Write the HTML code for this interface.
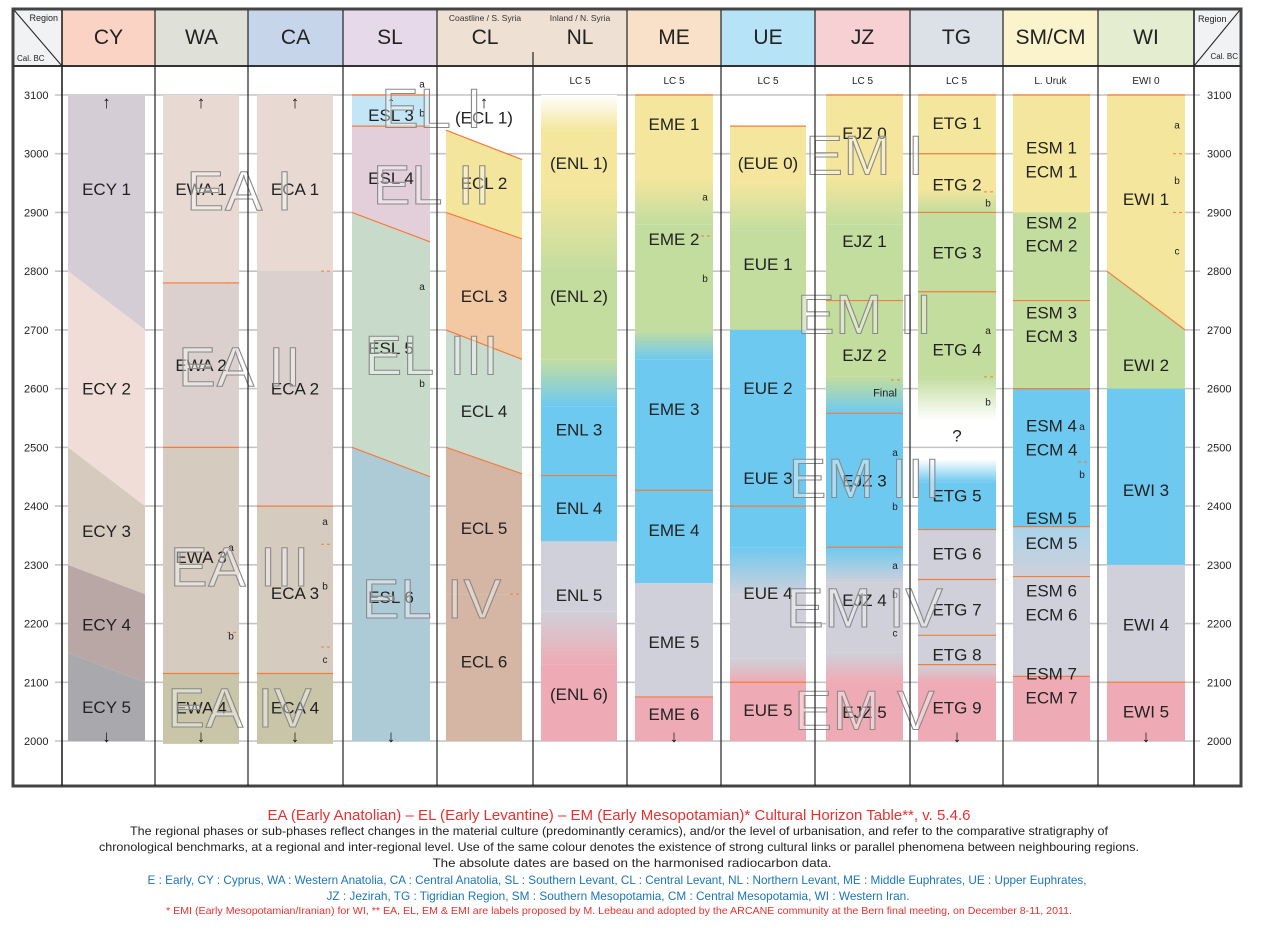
<!DOCTYPE html>
<html><head><meta charset="utf-8"><style>
html,body{margin:0;padding:0;background:#fff;}
svg{display:block;font-family:"Liberation Sans",sans-serif;}
</style></head><body>
<svg id="chart" width="1262" height="931" viewBox="0 0 1262 931" xmlns="http://www.w3.org/2000/svg">
<defs id="defs"></defs>
<g id="header"></g>
<g id="grid"></g>
<g id="bars"></g>
<g id="labels"></g>
<g id="horizons"></g>
<g id="frame"></g>
<g id="footer">
<text x="619" y="820" font-size="15" fill="#e8312f" text-anchor="middle" textLength="703" lengthAdjust="spacingAndGlyphs">EA (Early Anatolian) – EL (Early Levantine) – EM (Early Mesopotamian)* Cultural Horizon Table**, v. 5.4.6</text>
<text x="619" y="835" font-size="12" fill="#222" text-anchor="middle" textLength="978" lengthAdjust="spacingAndGlyphs">The regional phases or sub-phases reflect changes in the material culture (predominantly ceramics), and/or the level of urbanisation, and refer to the comparative stratigraphy of</text>
<text x="619" y="851" font-size="12" fill="#222" text-anchor="middle" textLength="1040" lengthAdjust="spacingAndGlyphs">chronological benchmarks, at a regional and inter-regional level. Use of the same colour denotes the existence of strong cultural links or parallel phenomena between neighbouring regions.</text>
<text x="632" y="867" font-size="12" fill="#222" text-anchor="middle" textLength="399" lengthAdjust="spacingAndGlyphs">The absolute dates are based on the harmonised radiocarbon data.</text>
<text x="617" y="884" font-size="12" fill="#1b75bb" text-anchor="middle" textLength="939" lengthAdjust="spacingAndGlyphs">E : Early, CY : Cyprus,  WA : Western Anatolia, CA : Central Anatolia, SL : Southern Levant, CL : Central Levant, NL : Northern Levant, ME : Middle Euphrates, UE : Upper Euphrates,</text>
<text x="618" y="900" font-size="12" fill="#1b75bb" text-anchor="middle" textLength="583" lengthAdjust="spacingAndGlyphs">JZ : Jezirah, TG : Tigridian Region, SM : Southern Mesopotamia, CM : Central Mesopotamia, WI : Western Iran.</text>
<text x="619" y="914" font-size="10.5" fill="#e8312f" text-anchor="middle" textLength="906" lengthAdjust="spacingAndGlyphs">* EMI (Early Mesopotamian/Iranian) for WI, ** EA, EL, EM &amp; EMI are labels proposed by M. Lebeau and adopted by the ARCANE community at the Bern final meeting, on December 8-11, 2011.</text>
</g>
</svg>
<script>
// ---- data ----
const regions = ["CY","WA","CA","SL","CL","NL","ME","UE","JZ","TG","SM/CM","WI"];
const yearTicks = [3100,3000,2900,2800,2700,2600,2500,2400,2300,2200,2100,2000];
const subHeads = ["","","","","","LC 5","LC 5","LC 5","LC 5","LC 5","L. Uruk","EWI 0"];
// segments: [col, topLeftYr, topRightYr, botLeftYr, botRightYr, colorTop, colorBot, orangeTopLine]
const Y="#f4e69c",G="#c3dd9f",B="#6ec9f0",R="#cfd0d9",P="#efabb5",W="#ffffff";
const segments = [
 [0,3100,3100,2800,2700,"#d5cdd6","#d5cdd6",0],
 [0,2800,2700,2500,2400,"#f1ddd7","#f1ddd7",0],
 [0,2500,2400,2300,2250,"#d6cabe","#d6cabe",0],
 [0,2300,2250,2150,2100,"#b9a7a5","#b9a7a5",0],
 [0,2150,2100,2000,2000,"#a9a9ad","#a9a9ad",0],
 [1,3100,3100,2780,2780,"#e8dad3","#e8dad3",0],
 [1,2780,2780,2500,2500,"#dbd0cd","#dbd0cd",1],
 [1,2500,2500,2115,2115,"#d6cbbf","#d6cbbf",1],
 [1,2115,2115,1995,1995,"#c9c5a9","#c9c5a9",1],
 [2,3100,3100,2800,2800,"#e8dad3","#e8dad3",0],
 [2,2800,2800,2400,2400,"#dbd0cd","#dbd0cd",0],
 [2,2400,2400,2115,2115,"#d6cbbf","#d6cbbf",1],
 [2,2115,2115,1995,1995,"#c9c5a9","#c9c5a9",1],
 [3,3100,3100,3047,3047,"#c2e6f5","#c2e6f5",1],
 [3,3047,3047,2900,2850,"#e3cfd9","#e3cfd9",1],
 [3,2900,2850,2500,2450,"#c8dbca","#c8dbca",1],
 [3,2500,2450,2000,2000,"#adcad7","#adcad7",1],
 [4,3040,2990,2900,2855,"#f4e59c","#f4e59c",1],
 [4,2900,2855,2700,2650,"#f2c9a2","#f2c9a2",1],
 [4,2700,2650,2500,2455,"#c9dccd","#c9dccd",1],
 [4,2500,2455,2250,2250,"#d5b6a4","#d5b6a4",1],
 [4,2250,2250,2000,2000,"#d5b6a4","#d5b6a4",0],
 [5,3100,3100,3040,3040,W,Y,0],[5,3040,3040,2940,2940,Y,Y,0],[5,2940,2940,2800,2800,Y,G,0],
 [5,2800,2800,2650,2650,G,G,0],[5,2650,2650,2570,2570,G,B,0],[5,2570,2570,2452,2452,B,B,0],
 [5,2452,2452,2340,2340,B,B,1],[5,2340,2340,2220,2220,R,R,0],[5,2220,2220,2130,2130,R,P,0],[5,2130,2130,2000,2000,P,P,0],
 [6,3100,3100,2960,2960,Y,Y,1],[6,2960,2960,2880,2880,Y,G,0],[6,2880,2880,2700,2700,G,G,0],
 [6,2700,2700,2650,2650,G,B,0],[6,2650,2650,2427,2427,B,B,0],[6,2427,2427,2269,2269,B,B,1],
 [6,2269,2269,2075,2075,R,R,0],[6,2075,2075,2000,2000,P,P,1],
 [7,3047,3047,2950,2950,Y,Y,1],[7,2950,2950,2870,2870,Y,G,0],[7,2870,2870,2700,2700,G,G,0],
 [7,2700,2700,2400,2400,B,B,0],[7,2400,2400,2330,2330,B,B,1],[7,2330,2330,2250,2250,B,R,0],
 [7,2250,2250,2140,2140,R,R,0],[7,2140,2140,2100,2100,R,P,0],[7,2100,2100,2000,2000,P,P,1],
 [8,3100,3100,2960,2960,Y,Y,1],[8,2960,2960,2880,2880,Y,G,0],[8,2880,2880,2750,2750,G,G,0],
 [8,2750,2750,2620,2620,G,G,1],[8,2620,2620,2558,2558,G,B,0],[8,2558,2558,2330,2330,B,B,1],
 [8,2330,2330,2270,2270,B,R,1],[8,2270,2270,2150,2150,R,R,0],[8,2150,2150,2100,2100,R,P,0],[8,2100,2100,2000,2000,P,P,0],
 [9,3100,3100,3000,3000,Y,Y,1],[9,3000,3000,2940,2940,Y,Y,1],[9,2940,2940,2900,2900,Y,G,0],
 [9,2900,2900,2765,2765,G,G,1],[9,2765,2765,2620,2620,G,G,1],[9,2620,2620,2545,2545,G,W,0],
 [9,2480,2480,2440,2440,W,B,0],[9,2440,2440,2360,2360,B,B,0],[9,2360,2360,2275,2275,R,R,1],
 [9,2275,2275,2180,2180,R,R,1],[9,2180,2180,2130,2130,R,R,1],[9,2130,2130,2100,2100,R,P,1],[9,2100,2100,2000,2000,P,P,0],
 [10,3100,3100,2900,2900,Y,Y,1],[10,2900,2900,2750,2750,G,G,0],[10,2750,2750,2600,2600,G,G,1],
 [10,2600,2600,2365,2365,B,B,1],[10,2365,2365,2280,2280,"#a9d4ec",R,1],[10,2280,2280,2110,2110,R,R,1],[10,2110,2110,2000,2000,P,P,1],
 [11,3100,3100,2800,2700,Y,Y,1],[11,2800,2700,2600,2600,G,G,1],[11,2600,2600,2300,2300,B,B,0],
 [11,2300,2300,2100,2100,R,R,0],[11,2100,2100,2000,2000,P,P,1]
];
// labels: [col, text, year]
const phaseLabels = [
 [0,"ECY 1",2940],[0,"ECY 2",2600],[0,"ECY 3",2358],[0,"ECY 4",2198],[0,"ECY 5",2058],
 [1,"EWA 1",2940],[1,"EWA 2",2640],[1,"EWA 3",2313],[1,"EWA 4",2057],
 [2,"ECA 1",2940],[2,"ECA 2",2600],[2,"ECA 3",2252],[2,"ECA 4",2057],
 [3,"ESL 3",3066],[3,"ESL 4",2959],[3,"ESL 5",2669],[3,"ESL 6",2245],
 [4,"(ECL 1)",3062],[4,"ECL 2",2950],[4,"ECL 3",2758],[4,"ECL 4",2562],[4,"ECL 5",2363],[4,"ECL 6",2135],
 [5,"(ENL 1)",2984],[5,"(ENL 2)",2758],[5,"ENL 3",2530],[5,"ENL 4",2397],[5,"ENL 5",2249],[5,"(ENL 6)",2080],
 [6,"EME 1",3051],[6,"EME 2",2855],[6,"EME 3",2565],[6,"EME 4",2359],[6,"EME 5",2169],[6,"EME 6",2046],
 [7,"(EUE 0)",2984],[7,"EUE 1",2812],[7,"EUE 2",2601],[7,"EUE 3",2448],[7,"EUE 4",2252],[7,"EUE 5",2053],
 [8,"EJZ 0",3035],[8,"EJZ 1",2851],[8,"EJZ 2",2657],[8,"EJZ 3",2444],[8,"EJZ 4",2240],[8,"EJZ 5",2049],
 [9,"ETG 1",3052],[9,"ETG 2",2948],[9,"ETG 3",2832],[9,"ETG 4",2667],[9,"?",2520],[9,"ETG 5",2418],[9,"ETG 6",2319],[9,"ETG 7",2224],[9,"ETG 8",2147],[9,"ETG 9",2057],
 [10,"ESM 1",3011],[10,"ECM 1",2970],[10,"ESM 2",2883],[10,"ECM 2",2844],[10,"ESM 3",2730],[10,"ECM 3",2690],[10,"ESM 4",2537],[10,"ECM 4",2496],[10,"ESM 5",2380],[10,"ECM 5",2337],[10,"ESM 6",2256],[10,"ECM 6",2215],[10,"ESM 7",2115],[10,"ECM 7",2074],
 [11,"EWI 1",2923],[11,"EWI 2",2640],[11,"EWI 3",2427],[11,"EWI 4",2198],[11,"EWI 5",2050]
];
// small sub-phase letters: [col, text, year]
const subLetters = [
 [1,"a",2330],[1,"b",2180],[2,"a",2375],[2,"b",2265],[2,"c",2140],[3,"a",3120],[3,"b",3070],[3,"a",2775],[3,"b",2610],
 [6,"a",2927],[6,"b",2788],[8,"a",2492],[8,"b",2400],[8,"a",2300],[8,"b",2250],[8,"c",2185],[9,"b",2917],[9,"a",2700],[9,"b",2578],
 [10,"a",2536],[10,"b",2455],[11,"a",3050],[11,"b",2955],[11,"c",2835]
];
const upArrows = [0,1,2,3,4];
const downArrows = [0,1,2,3,6,9,11];
const horizonNames = ["EA I","EA II","EA III","EA IV","EL I","EL II","EL III","EL IV","EM I","EM II","EM III","EM IV","EM V"];
const horizonYears = [2940,2640,2300,2060,3080,2950,2660,2245,3000,2730,2450,2230,2055];
const horizonGroup = [0,0,0,0,1,1,1,1,2,2,2,2,2];

// ---- layout ----
const colX = [62,155,248,343,437,533,627,721,815,910,1003,1098,1194];
const barInset = [[6,10],[8,9],[9,10],[9,7],[9,11],[8,10],[8,8],[9,9],[11,7],[8,7],[10,8],[9,9]];
const horizonX = [240,432,865];
const headFill = ["#fbd3c4","#dfe1d8","#c6d5ea","#e6d9ea","#efe0d4","#efe0d4","#f9e0c8","#b7e3f7","#f6d0d2","#dce1e8","#faf3cc","#e4edcf"];
const NS="http://www.w3.org/2000/svg";
const yOf = yr => 95 + (3100-yr)*646/1100;
function mk(tag, attrs, parent, txt){const e=document.createElementNS(NS,tag);for(const k in attrs)e.setAttribute(k,attrs[k]);if(txt!==undefined)e.textContent=txt;parent.appendChild(e);return e;}
const $=id=>document.getElementById(id);
const barL = c => colX[c]+barInset[c][0], barR = c => colX[c+1]-barInset[c][1];

// header
const hd=$("header");
let r=mk("rect",{x:14,y:10,width:48,height:56,fill:"#f1f2f4"},hd);


mk("rect",{x:1194,y:10,width:46,height:56,fill:"#f1f2f4"},hd);
mk("line",{x1:14,y1:10,x2:62,y2:66,stroke:"#222","stroke-width":1},hd);
mk("line",{x1:1194,y1:66,x2:1240,y2:10,stroke:"#222","stroke-width":1},hd);
mk("text",{x:58,y:21,"font-size":9,"text-anchor":"end",fill:"#222"},hd,"Region");
mk("text",{x:17,y:61,"font-size":8,fill:"#222"},hd,"Cal. BC");
mk("text",{x:1198,y:22,"font-size":9,fill:"#222"},hd,"Region");
mk("text",{x:1238,y:59,"font-size":8,"text-anchor":"end",fill:"#222"},hd,"Cal. BC");
regions.forEach((n,i)=>{
  const rc=mk("rect",{x:colX[i],y:10,width:colX[i+1]-colX[i],height:56,fill:headFill[i]},hd);
  
  
  const t=mk("text",{x:(colX[i]+colX[i+1])/2,y:44,"font-size":21,"text-anchor":"middle",fill:"#222"},hd,n);
  
  
  if(subHeads[i]){const s=mk("text",{x:(colX[i]+colX[i+1])/2,y:84,"font-size":10,"text-anchor":"middle",fill:"#222"},hd,subHeads[i]);
    
    }
});
mk("text",{x:485,y:21,"font-size":8.5,"text-anchor":"middle",fill:"#333"},hd,"Coastline / S. Syria");
mk("text",{x:580,y:21,"font-size":8.5,"text-anchor":"middle",fill:"#333"},hd,"Inland / N. Syria");

// grid + ticks
const gd=$("grid");
yearTicks.forEach(yr=>{
  const y=yOf(yr);
  const l=mk("line",{x1:55,y1:y,x2:1200,y2:y,stroke:"#c4c4c4","stroke-width":1.6},gd);
  
  
  const a=mk("text",{x:24,y:y+4,"font-size":11,fill:"#222"},gd,yr);
  
  
  const b=mk("text",{x:1207,y:y+4,"font-size":11,fill:"#222"},gd,yr);
  
  
});

// bars
const defs=$("defs"), bg=$("bars");
segments.forEach((s,i)=>{
  const [c,tl,tr,bl,br,c1,c2,line]=s;
  const xl=barL(c), xr=barR(c);
  let fill=c1;
  if(c1!==c2){
    const gid="g"+i;
    const lg=mk("linearGradient",{id:gid,x1:0,y1:0,x2:0,y2:1},defs);
    mk("stop",{offset:0,"stop-color":c1},lg);mk("stop",{offset:1,"stop-color":c2},lg);
    fill="url(#"+gid+")";
  }
  const p=mk("polygon",{points:`${xl},${yOf(tl)} ${xr},${yOf(tr)} ${xr},${yOf(br)} ${xl},${yOf(bl)}`,fill:fill},bg);
  
  
  if(line){mk("line",{x1:xl,y1:yOf(tl),x2:xr,y2:yOf(tr),stroke:"#f47c3c","stroke-width":1.2},bg);}
});
[[1,2780],[2,2800],[6,2860],[8,2615],[9,2935],[9,2620],[10,2475],[11,3000],[11,2900],[4,2250],[1,2185],[2,2335],[2,2160]].forEach(d=>{
  mk("line",{x1:barR(d[0])-12,y1:yOf(d[1]),x2:barR(d[0]),y2:yOf(d[1]),stroke:"#f47c3c","stroke-width":1,"stroke-dasharray":"3,3"},bg);
});

// labels
const lb=$("labels");
phaseLabels.forEach(l=>{
  const [c,t,yr]=l;
  const x=(barL(c)+barR(c))/2;
  const e=mk("text",{x:x,y:yOf(yr)+6,"font-size":17,"text-anchor":"middle",fill:"#222"},lb,t);
  
  
});
mk("text",{x:885,y:yOf(2593)+4,"font-size":11,"text-anchor":"middle",fill:"#222"},lb,"Final");
subLetters.forEach(l=>{
  const e=mk("text",{x:barR(l[0])-8,y:yOf(l[2])+4,"font-size":10,"text-anchor":"middle",fill:"#222"},lb,l[1]);
  
  
});
upArrows.forEach(c=>{const x=(barL(c)+barR(c))/2;
  const e=mk("text",{x:x,y:108,"font-size":17,"font-weight":"bold","text-anchor":"middle",fill:"#111"},lb,"↑");
  
  });
downArrows.forEach(c=>{const x=(barL(c)+barR(c))/2;
  const e=mk("text",{x:x,y:742,"font-size":17,"font-weight":"bold","text-anchor":"middle",fill:"#111"},lb,"↓");
  
  });

// horizons
const hz=$("horizons");
horizonNames.forEach((n,i)=>{
  const e=mk("text",{x:horizonX[horizonGroup[i]],y:yOf(horizonYears[i])+21,"font-size":56,"letter-spacing":1,"text-anchor":"middle",fill:"rgba(255,255,255,0.4)",stroke:"#8a8a8a","stroke-width":1.1},hz,n);
  
  
});

// frame
const fr=$("frame");
mk("rect",{x:13,y:9,width:1228,height:777,fill:"none",stroke:"#444","stroke-width":3},fr);
mk("line",{x1:13,y1:66,x2:1241,y2:66,stroke:"#333","stroke-width":2},fr);
colX.forEach((x,i)=>{
  if(i===5){mk("line",{x1:x,y1:52,x2:x,y2:786,stroke:"#222","stroke-width":1.2},fr);return;}
  mk("line",{x1:x,y1:10,x2:x,y2:786,stroke:"#222","stroke-width":i===0||i===12?1.6:1.2},fr);
});
</script>
</body></html>
